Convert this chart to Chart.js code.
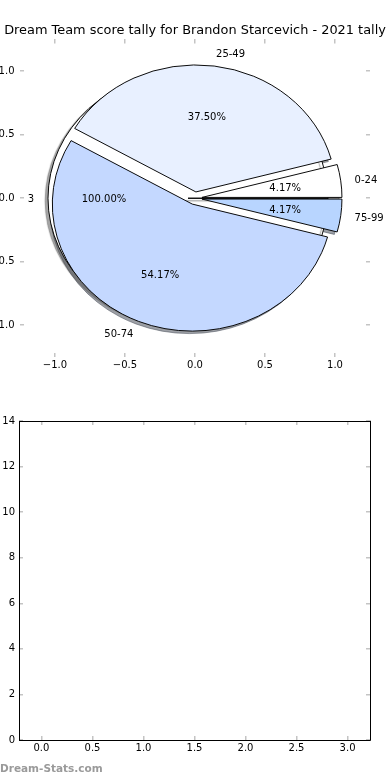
<!DOCTYPE html>
<html lang="en">
<head>
  <meta charset="UTF-8">
  <meta name="viewport" content="width=device-width, initial-scale=1.0">
  <title>Dream Team score tally - Brandon Starcevich</title>
  <style>
    body {
      margin: 0;
      background: #fff;
      font-family: 'DejaVu Sans', sans-serif;
    }
    .panel {
      position: relative;
      width: 390px;
      height: 390px;
    }
    .panel canvas {
      position: absolute;
      left: 0;
      top: 0;
    }
    .brand {
      position: absolute;
      left: 0;
      top: 762px;
      font-size: 10.5px;
      font-weight: bold;
      color: #9a9a9a;
    }
  </style>
</head>
<body>
  <div class="panel">
    <canvas id="pie-shadow" width="390" height="390"></canvas>
    <canvas id="pie-total" width="390" height="390"></canvas>
    <canvas id="pie-main" width="390" height="390"></canvas>
  </div>
  <div class="panel">
    <canvas id="bars" width="390" height="390"></canvas>
  </div>
  <div class="brand">Dream-Stats.com</div>

  <script src="https://cdn.jsdelivr.net/npm/chart.js@4"></script>
  <script>
    const chartTitle = 'Dream Team score tally for Brandon Starcevich - 2021 tally';

    // score ranges and number of games in each
    const scoreRanges = ['0-24', '25-49', '50-74', '75-99'];
    const scoreCounts = [1, 9, 13, 1];
    const rangeColors = ['#ffffff', '#e8f0ff', '#c4d8ff', '#b8d5ff'];

    // the second pie drawn underneath: one slice
    const totalLabels = ['3'];
    const totalCounts = [3];

    const pieTicks = [-1, -0.5, 0, 0.5, 1];
    const pieLimits = [-1.25, 1.25];

    // lower panel is empty
    const barValues = [];
    const barXTicks = [0, 0.5, 1, 1.5, 2, 2.5, 3];
    const barYTicks = [0, 2, 4, 6, 8, 10, 12, 14];
    const barXLimits = [-0.22, 3.22];
    const barYLimits = [0, 14];

    const pieRadius = 140;      // px for one unit across
    const yRatio = 127 / 140;   // axes are not square, so the pie is squashed
    const explode = 0.05;
    const shadowShift = [-2.8, 2.5];

    Chart.defaults.font.family = "'DejaVu Sans', sans-serif";
    Chart.defaults.font.size = 10;
    Chart.defaults.color = '#000';

    function shade(hex, alpha) {
      const n = parseInt(hex.slice(1), 16);
      const r = Math.round(((n >> 16) & 255) * 0.3);
      const g = Math.round(((n >> 8) & 255) * 0.3);
      const b = Math.round((n & 255) * 0.3);
      return `rgba(${r},${g},${b},${alpha})`;
    }

    function tickText(v) {
      return v.toFixed(1).replace('-', '\u2212');
    }

    // explode slices, squash + flip the pie so it runs counter-clockwise
    const pieShape = {
      id: 'pieShape',
      beforeDatasetsDraw(chart, args, opts) {
        const ctx = chart.ctx;
        const a = chart.chartArea;
        const cx = (a.left + a.right) / 2;
        const cy = (a.top + a.bottom) / 2;
        chart.getDatasetMeta(0).data.forEach(arc => {
          const mid = (arc.startAngle + arc.endAngle) / 2;
          const d = explode * arc.outerRadius;
          arc.x = cx + Math.cos(mid) * d;
          arc.y = cy + Math.sin(mid) * d;
        });
        ctx.save();
        ctx.translate(cx + opts.shift[0], cy + opts.shift[1]);
        ctx.scale(1, -yRatio);
        ctx.translate(-cx, -cy);
        if (opts.shadow) {
          ctx.shadowColor = opts.shadow;
          ctx.shadowOffsetX = shadowShift[0];
          ctx.shadowOffsetY = shadowShift[1];
          ctx.shadowBlur = 1;
        }
      },
      afterDatasetsDraw(chart) {
        chart.ctx.restore();
      }
    };

    function drawPieText(ctx, src) {
      const a = src.chartArea;
      const cx = (a.left + a.right) / 2;
      const cy = (a.top + a.bottom) / 2;
      const values = src.data.datasets[0].data;
      const total = values.reduce((s, v) => s + v, 0);
      const at = (arc, mid, dist) => ({
        x: arc.x + Math.cos(mid) * arc.outerRadius * dist,
        y: cy - (arc.y + Math.sin(mid) * arc.outerRadius * dist - cy) * yRatio + 1
      });
      src.getDatasetMeta(0).data.forEach((arc, i) => {
        const mid = (arc.startAngle + arc.endAngle) / 2;
        const lab = at(arc, mid, 1.1);
        ctx.textAlign = lab.x > cx ? 'left' : 'right';
        ctx.fillText(src.data.labels[i], lab.x, lab.y);
        const pct = at(arc, mid, 0.6);
        ctx.textAlign = 'center';
        ctx.fillText((values[i] / total * 100).toFixed(2) + '%', pct.x, pct.y);
      });
    }

    function axis(name, position, limits, ticks, format, size, pad, border) {
      return {
        type: 'linear',
        axis: name,
        position: position,
        min: limits[0],
        max: limits[1],
        bounds: 'data',
        afterBuildTicks: s => { s.ticks = ticks.map(v => ({ value: v })); },
        afterFit: s => {
          if (name === 'x') s.height = size; else s.width = size;
        },
        ticks: {
          display: !!format,
          callback: format || (() => ''),
          padding: pad,
          maxRotation: 0,
          autoSkip: false,
          color: '#000',
          font: { size: 10 }
        },
        grid: {
          drawOnChartArea: false,
          drawTicks: true,
          tickLength: -4,
          color: '#c4c4c4',
          lineWidth: 1.5
        },
        border: { display: border, color: '#000', width: 1 }
      };
    }

    const pieBase = {
      responsive: false,
      animation: false,
      events: [],
      rotation: 90,
      radius: pieRadius,
      layout: { padding: { left: 20, right: 20, top: 39.5, bottom: 33 } },
      plugins: { legend: { display: false }, tooltip: { enabled: false } }
    };

    // shadows of the four slices
    new Chart(document.getElementById('pie-shadow'), {
      type: 'pie',
      data: {
        labels: scoreRanges,
        datasets: [{
          data: scoreCounts,
          backgroundColor: rangeColors.map(c => shade(c, 0.5)),
          borderColor: rangeColors.map(c => shade(c, 0.5)),
          borderWidth: 1
        }]
      },
      options: { ...pieBase, plugins: { ...pieBase.plugins, pieShape: { shift: shadowShift } } },
      plugins: [pieShape]
    });

    const totalChart = new Chart(document.getElementById('pie-total'), {
      type: 'pie',
      data: {
        labels: totalLabels,
        datasets: [{
          data: totalCounts,
          backgroundColor: '#ffffff',
          borderColor: '#000',
          borderWidth: 1
        }]
      },
      options: {
        ...pieBase,
        plugins: { ...pieBase.plugins, pieShape: { shift: [0, 0], shadow: shade('#ffffff', 0.5) } }
      },
      plugins: [pieShape]
    });

    new Chart(document.getElementById('pie-main'), {
      type: 'pie',
      data: {
        labels: scoreRanges,
        datasets: [{
          data: scoreCounts,
          backgroundColor: rangeColors,
          borderColor: '#000',
          borderWidth: 1
        }]
      },
      options: {
        ...pieBase,
        layout: { padding: 0 },
        plugins: {
          ...pieBase.plugins,
          pieShape: { shift: [0, 0] },
          title: {
            display: true,
            text: chartTitle,
            color: '#000',
            font: { size: 12.9, weight: 'normal' },
            padding: { top: 22.5, bottom: 1.5 }
          }
        },
        scales: {
          x: axis('x', 'bottom', pieLimits, pieTicks, tickText, 33, 6, false),
          x2: axis('x', 'top', pieLimits, pieTicks, null, 0, 0, false),
          y: axis('y', 'left', pieLimits, pieTicks, tickText, 20, 9.5, false),
          y2: axis('y', 'right', pieLimits, pieTicks, null, 20, 0, false)
        }
      },
      plugins: [pieShape, {
        id: 'pieText',
        afterDraw(chart) {
          const ctx = chart.ctx;
          ctx.save();
          ctx.font = "10px 'DejaVu Sans', sans-serif";
          ctx.fillStyle = '#000';
          ctx.textBaseline = 'middle';
          drawPieText(ctx, totalChart);
          drawPieText(ctx, chart);
          ctx.restore();
        }
      }]
    });

    new Chart(document.getElementById('bars'), {
      type: 'scatter',
      data: { datasets: [{ data: barValues }] },
      options: {
        responsive: false,
        animation: false,
        events: [],
        plugins: { legend: { display: false }, tooltip: { enabled: false } },
        scales: {
          x: axis('x', 'bottom', barXLimits, barXTicks, tickText, 40, 6, true),
          x2: axis('x', 'top', barXLimits, barXTicks, null, 31, 0, true),
          y: axis('y', 'left', barYLimits, barYTicks, v => String(v), 19, 8, true),
          y2: axis('y', 'right', barYLimits, barYTicks, null, 20, 0, true)
        }
      }
    });
  </script>
</body>
</html>
